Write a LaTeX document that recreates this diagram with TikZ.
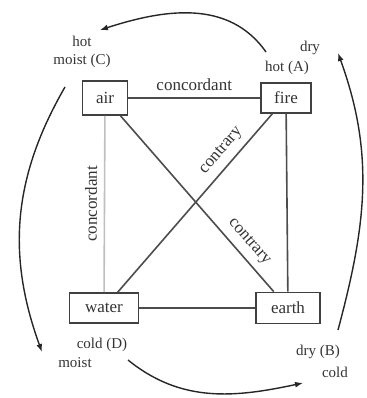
\documentclass[tikz,border=0pt]{standalone}
\usepackage{fontspec}
\setmainfont{Liberation Serif}
\usetikzlibrary{arrows.meta}

\begin{document}
\begin{tikzpicture}[
  x=0.5pt, y=-0.5pt,
  font=\fontsize{8.5}{10}\selectfont, text=black!80,
  box/.style={draw=black!75, line width=0.9pt, inner sep=0pt, align=center},
  link/.style={line width=0.8pt, draw=black!70},
  tag/.style={font=\fontsize{7.5}{9}\selectfont, inner sep=1pt, align=center},
  arr/.style={-{Latex[length=4pt,width=3pt]}, line width=0.7pt, black!85},
]
\useasboundingbox (0,0) rectangle (367,398);
% elements
\node[box, minimum width=22.5pt, minimum height=17pt] (air) at (105,98) {air};
\node[box, minimum width=25pt, minimum height=15pt] (fire) at (286,98) {fire};
\node[box, minimum width=34.5pt, minimum height=15pt] (water) at (104,308) {water};
\node[box, minimum width=32pt, minimum height=15.5pt] (earth) at (288,308) {earth};
% qualities
\node[tag] (hotC) at (82,52) {hot\\moist (C)};
\node[tag] (dryA) at (310,48) {dry};
\node[tag] (hotA) at (287,68) {hot (A)};
\node[tag] (coldD) at (102,345) {cold (D)};
\node[tag] (moistD) at (75,363) {moist};
\node[tag] (dryB) at (318,352) {dry (B)};
\node[tag] (coldB) at (335,372) {cold};
% relations
\draw[link] (air) -- node[above] {concordant} (fire);
\draw[link] (fire) -- (earth);
\draw[link] (water) -- (earth);
\draw[link, draw=black!25] (water) -- node[above, sloped] {concordant} (air);
\draw[link] (water) -- node[above, sloped, pos=0.74] {contrary} (fire);
\draw[link] (air) -- node[above, sloped, pos=0.77] {contrary} (earth);
% cycle
\coordinate (fromA) at (266,52);
\coordinate (toC) at (100,30);
\coordinate (fromC) at (65,87);
\coordinate (toD) at (42,352);
\coordinate (fromD) at (128,360);
\coordinate (toB) at (303,383);
\coordinate (fromB) at (338,330);
\coordinate (toA) at (338,53);
\draw[arr] (fromA) to[out=125, in=18] (toC);
\draw[arr] (fromC) to[out=240, in=110] (toD);
\draw[arr] (fromD) to[out=-39, in=192] (toB);
\draw[arr] (fromB) to[out=75, in=-70] (toA);
\end{tikzpicture}
\end{document}
